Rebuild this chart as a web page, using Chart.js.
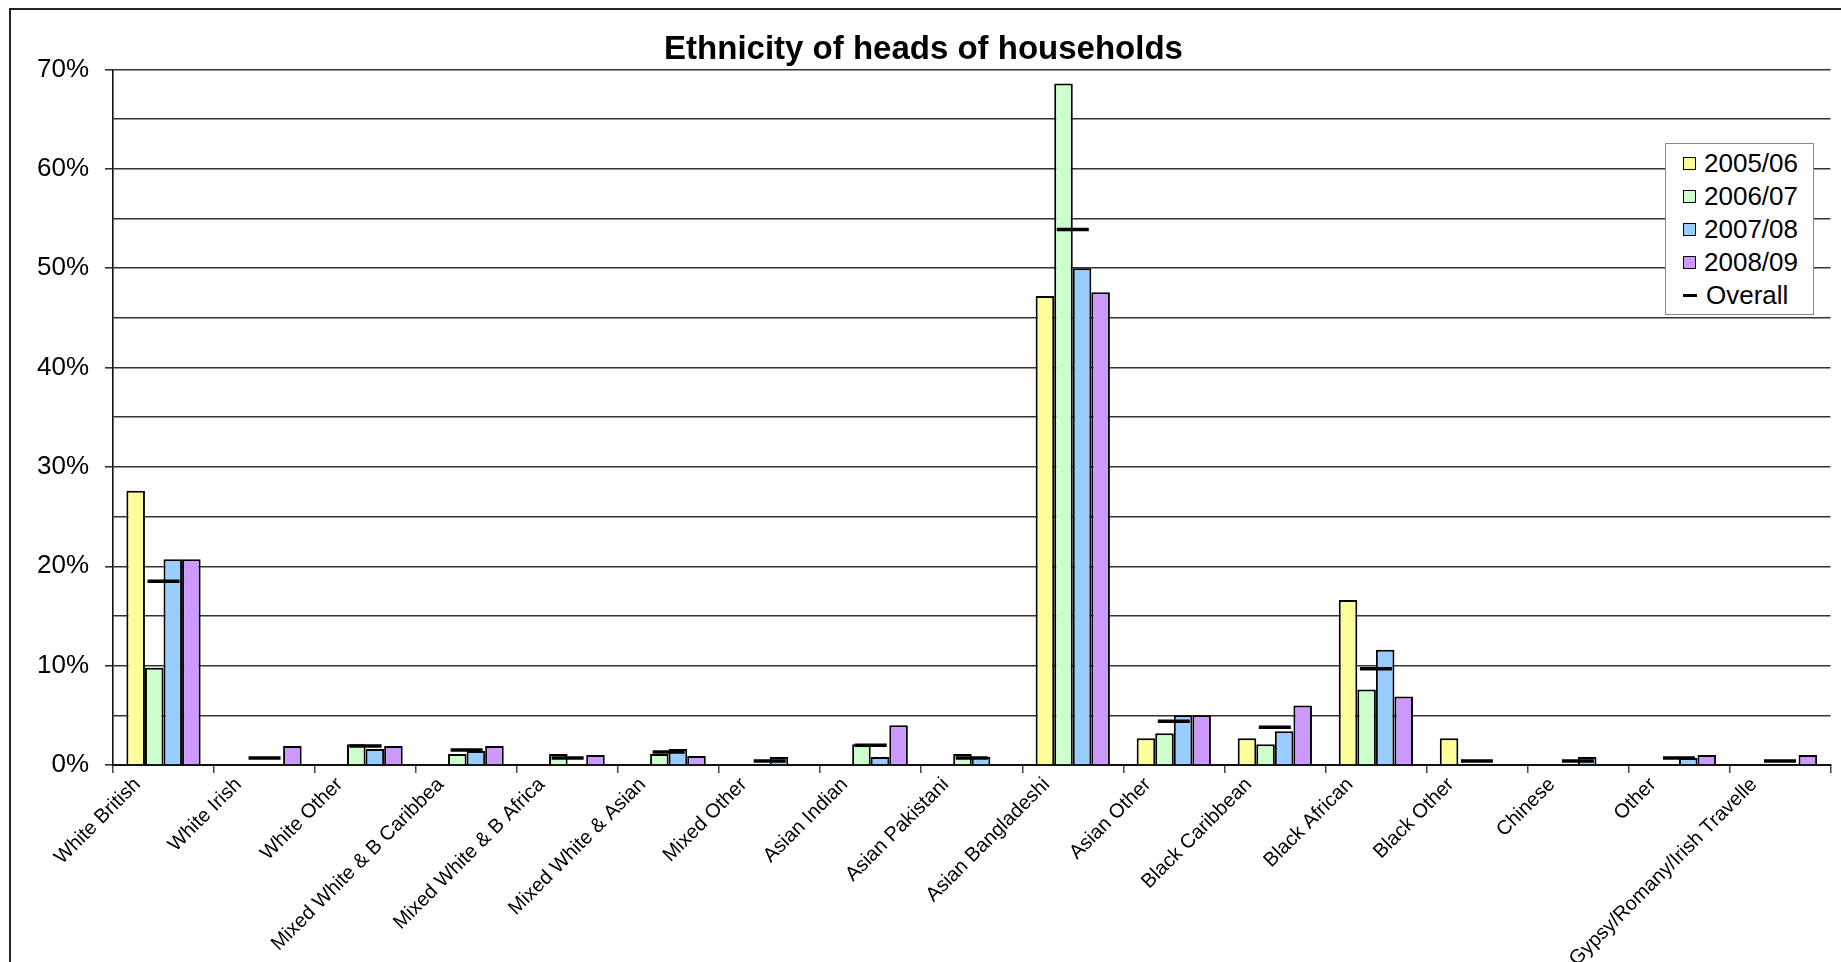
<!DOCTYPE html>
<html>
<head>
<meta charset="utf-8">
<title>Ethnicity of heads of households</title>
<script src="https://cdn.jsdelivr.net/npm/chart.js@4.4.1/dist/chart.umd.min.js"></script>
<style>
  body { margin: 0; overflow: hidden; background: #fff; font-family: "Liberation Sans", Arial, sans-serif; }
  #frame { position: absolute; left: 9px; top: 8px; width: 2000px; height: 2000px;
           border-left: 2px solid #222; border-top: 2px solid #222; }
  #wrap { position: absolute; left: 0; top: 0; }
  #legend { position: absolute; left: 1665px; top: 143px; width: 149px; height: 172px;
            box-sizing: border-box; border: 1.5px solid #888; background: #fff; padding-top: 3px; }
  .item { display: flex; align-items: center; height: 33px; padding-left: 17px; font-size: 26px; color: #000; }
  .swatch { width: 11px; height: 11px; border: 1.5px solid #000; margin-right: 8px; flex: none; }
  .dash { width: 14px; height: 3px; background: #000; margin-right: 9px; flex: none; }
</style>
</head>
<body>
<div id="frame"></div>
<div id="wrap"><canvas id="ethChart" width="1850" height="962"></canvas></div>
<div id="legend"></div>
<script>
// Categories and yearly shares (percent of heads of households)
var categories = ["White British", "White Irish", "White Other", "Mixed White & B Caribbea",
    "Mixed White & B Africa", "Mixed White & Asian", "Mixed Other", "Asian Indian",
    "Asian Pakistani", "Asian Bangladeshi", "Asian Other", "Black Caribbean", "Black African",
    "Black Other", "Chinese", "Other", "Gypsy/Romany/Irish Travelle"];

var year0506 = [27.6, null, null, null, null, null, null, null, null, 47.2, 2.7, 2.7, 16.6, 2.7, null, null, null];
var year0607 = [9.8, null, 2.1, 1.1, 1.1, 1.1, null, 2.1, 1.1, 68.6, 3.2, 2.1, 7.6, null, null, null, null];
var year0708 = [20.7, null, 1.6, 1.4, null, 1.6, 0.8, 0.8, 0.8, 50.0, 5.0, 3.4, 11.6, null, 0.8, 0.7, null];
var year0809 = [20.7, 1.9, 1.9, 1.9, 1.0, 0.9, null, 4.0, null, 47.6, 5.0, 6.0, 6.9, null, null, 1.0, 1.0];
var overall  = [18.5, 0.7, 1.9, 1.5, 0.7, 1.3, 0.4, 2.0, 0.7, 53.9, 4.4, 3.8, 9.7, 0.4, 0.4, 0.7, 0.4];

var seriesNames = ["2005/06", "2006/07", "2007/08", "2008/09"];
var seriesColors = ["#FFFF99", "#CCFFCC", "#99CCFF", "#CC99FF"];

Chart.defaults.font.family = '"Liberation Sans", Arial, sans-serif';
Chart.defaults.color = "#000";

function barSet(i, values) {
    return {
        label: seriesNames[i],
        data: values,
        backgroundColor: seriesColors[i],
        borderColor: "#000",
        borderWidth: 2,
        categoryPercentage: 0.735,
        barPercentage: 1.0,
        order: 1
    };
}

var ctx = document.getElementById("ethChart").getContext("2d");
var chart = new Chart(ctx, {
    type: "bar",
    data: {
        labels: categories,
        datasets: [
            {
                type: "line",
                label: "Overall",
                data: overall,
                showLine: false,
                pointStyle: "line",
                pointRadius: 16,
                pointHoverRadius: 16,
                pointBorderWidth: 3.5,
                pointBorderColor: "#000",
                borderColor: "#000",
                order: 0
            },
            barSet(0, year0506),
            barSet(1, year0607),
            barSet(2, year0708),
            barSet(3, year0809)
        ]
    },
    options: {
        responsive: false,
        animation: false,
        layout: { padding: { left: 0, right: 3, top: 0, bottom: 0 } },
        plugins: {
            legend: { display: false },
            tooltip: { enabled: false },
            title: {
                display: true,
                text: "Ethnicity of heads of households",
                font: { size: 33, weight: "bold" },
                color: "#000",
                padding: { top: 30, bottom: 0 }
            }
        },
        scales: {
            y: {
                min: 0,
                max: 70,
                afterFit: function (scale) { scale.width = 113; },
                ticks: {
                    stepSize: 5,
                    padding: 16,
                    font: { size: 26 },
                    color: "#000",
                    callback: function (v) { return v % 10 === 0 ? v + "%" : ""; }
                },
                grid: {
                    color: "#333",
                    lineWidth: 1.6,
                    tickLength: 8,
                    tickColor: function (c) {
                        return c.tick && c.tick.value % 10 === 0 ? "#333" : "rgba(0,0,0,0)";
                    }
                },
                border: { display: true, color: "#111", width: 1.6 }
            },
            x: {
                afterFit: function (scale) { scale.height = 197; },
                ticks: {
                    autoSkip: false,
                    minRotation: 45,
                    maxRotation: 45,
                    labelOffset: -26,
                    padding: 0,
                    font: { size: 20 },
                    color: "#000"
                },
                grid: {
                    offset: true,
                    drawOnChartArea: false,
                    tickLength: 8,
                    color: "#444",
                    lineWidth: 1.5
                },
                border: { display: true, color: "#111", width: 2 }
            }
        }
    }
});

// Legend box built from the chart's own datasets
var legendEl = document.getElementById("legend");
var order = [1, 2, 3, 4, 0];
order.forEach(function (idx) {
    var ds = chart.data.datasets[idx];
    var row = document.createElement("div");
    row.className = "item";
    var mark = document.createElement("span");
    if (ds.type === "line") {
        mark.className = "dash";
    } else {
        mark.className = "swatch";
        mark.style.background = ds.backgroundColor;
    }
    var txt = document.createElement("span");
    txt.textContent = ds.label;
    row.appendChild(mark);
    row.appendChild(txt);
    legendEl.appendChild(row);
});
</script>
</body>
</html>
